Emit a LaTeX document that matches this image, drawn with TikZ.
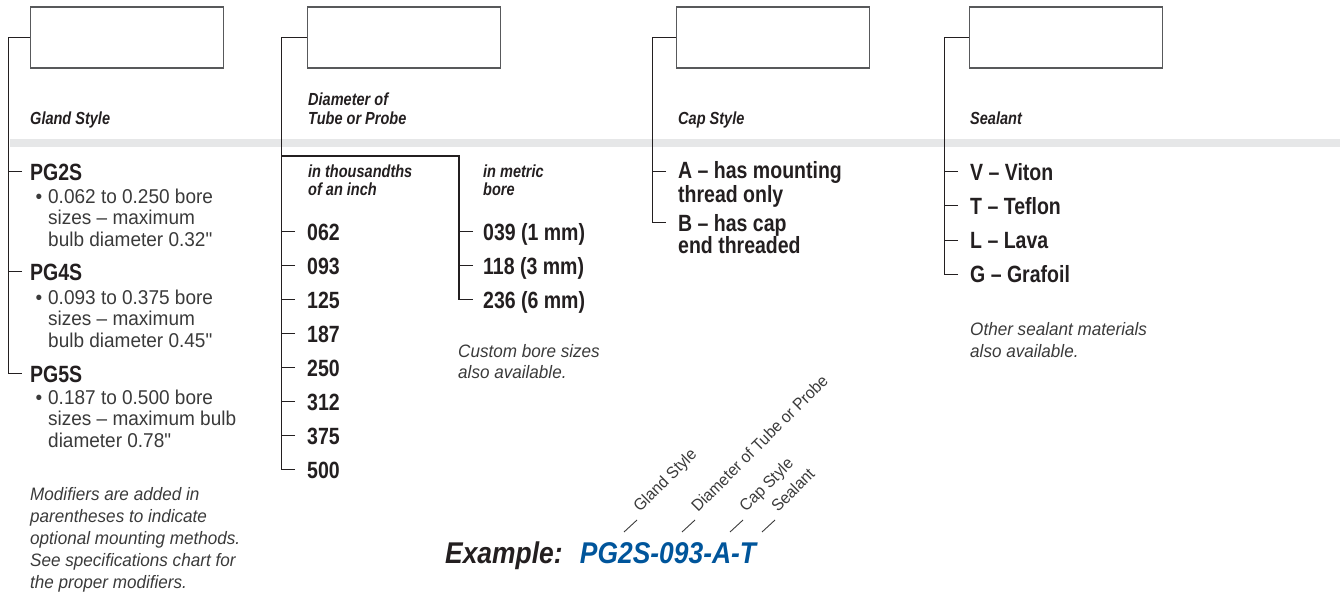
\documentclass[tikz,border=0pt]{standalone}
\usepackage{fontspec}
\usepackage{tikz}
\usetikzlibrary{positioning,calc}
\newfontfamily\boldcond[FakeStretch=0.83]{Liberation Sans}
\newfontfamily\lightcond[FakeStretch=0.95]{Liberation Sans}
\newfontfamily\examplecond[FakeStretch=0.88]{Liberation Sans}
\definecolor{ink}{HTML}{231F20}
\definecolor{softink}{HTML}{3A3A3A}
\definecolor{boxline}{HTML}{58595B}
\definecolor{band}{HTML}{E6E7E8}
\definecolor{codeblue}{HTML}{00559B}

\begin{document}
\begin{tikzpicture}[x=1pt,y=-1pt,
	field/.style={draw=boxline,line width=1.5pt,minimum width=193pt,minimum height=61pt,inner sep=0pt},
	heading/.style={anchor=base west,inner sep=0pt,align=left,text=ink,
		font=\boldcond\bfseries\itshape\fontsize{17.5}{19}\selectfont},
	item/.style={anchor=base west,inner sep=0pt,align=left,text=ink,
		font=\boldcond\bfseries\fontsize{23.5}{22}\selectfont},
	bullets/.style={anchor=base west,inner sep=0pt,align=left,text=softink,
		font=\lightcond\fontsize{20}{21.8}\selectfont},
	note/.style={anchor=base west,inner sep=0pt,align=left,text=softink,
		font=\lightcond\itshape\fontsize{18}{22}\selectfont},
	tag/.style={anchor=base west,inner sep=0pt,rotate=45,text=softink,
		font=\lightcond\fontsize{16.5}{16.5}\selectfont},
	example/.style={anchor=base west,inner sep=0pt,text=ink,
		font=\examplecond\bfseries\itshape\fontsize{30}{30}\selectfont},
	spine/.style={draw=ink,line width=1.1pt},
	tagline/.style={draw=softink,line width=0.9pt}]
	
	\useasboundingbox (0,0) rectangle (1340,594);
	
	\fill[band] (10,139) rectangle (1340,147);
	
	% code fields
	\node[field] (gland) at (127,37.5) {};
	\node[field] (diam) at (404,37.5) {};
	\node[field] (cap) at (773,37.5) {};
	\node[field] (seal) at (1066,37.5) {};
	
	% gland style (multi-line nodes sit on their last baseline)
	\node[heading] (glandhd) at (30,124) {Gland Style};
	\node[item] (pg2s) at (30,180) {PG2S};
	\node[bullets] (pg2sinfo) at (48,246.6)
	{\llap{•\hspace{6pt}}0.062 to 0.250 bore\\sizes – maximum\\bulb diameter 0.32"};
	\node[item] (pg4s) at (30,280) {PG4S};
	\node[bullets] (pg4sinfo) at (48,347.6)
	{\llap{•\hspace{6pt}}0.093 to 0.375 bore\\sizes – maximum\\bulb diameter 0.45"};
	\node[item] (pg5s) at (30,382) {PG5S};
	\node[bullets] (pg5sinfo) at (48,447.6)
	{\llap{•\hspace{6pt}}0.187 to 0.500 bore\\sizes – maximum bulb\\diameter 0.78"};
	\node[note] (modnote) at (30,588)
	{Modifiers are added in\\parentheses to indicate\\optional mounting methods.\\See specifications chart for\\the proper modifiers.};
	
	\draw[spine] (gland.west) -- ++(-21,0) |- ([shift={(-8,-8.5)}]pg5s.base west);
	\foreach \nm in {pg2s,pg4s}
	\draw[spine] (\nm.base west) ++(-8,-8.5) -- ++(-13,0);
	
	% diameter of tube or probe
	\node[heading] (diamhd) at (308,124) {Diameter of\\Tube or Probe};
	\node[heading,font=\boldcond\bfseries\itshape\fontsize{17.5}{18}\selectfont]
	(inchhd) at (308,195) {in thousandths\\of an inch};
	\node[heading,font=\boldcond\bfseries\itshape\fontsize{17.5}{18}\selectfont]
	(metrichd) at (483,195) {in metric\\bore};
	
	\foreach \num [count=\i from 0] in {062,093,125,187,250,312,375,500} {
		\node[item] (n\num) at (307,240+34*\i) {\num};
		\draw[spine] (n\num.base west) ++(-12,-8.5) -- ++(-13,0);
	}
	\draw[spine] (diam.west) -- ++(-25.5,0) |- ([shift={(-12,-8.5)}]n500.base west);
	
	\node[item] (m039) at (483,240) {039 (1 mm)};
	\node[item] (m118) at (483,274) {118 (3 mm)};
	\node[item] (m236) at (483,308) {236 (6 mm)};
	\coordinate (msplit) at (282,156);
	\coordinate (mcorner) at (459,156);
	\draw[spine] (msplit) -- (mcorner) |- ([shift={(-10,-8.5)}]m236.base west);
	\foreach \nm in {m039,m118}
	\draw[spine] (\nm.base west) ++(-10,-8.5) -- ++(-14,0);
	
	\node[note,font=\lightcond\itshape\fontsize{18}{21}\selectfont]
	(customnote) at (458,378) {Custom bore sizes\\also available.};
	
	% cap style
	\node[heading] (caphd) at (678,124) {Cap Style};
	\node[item] (capa) at (678,202) {A – has mounting\\thread only};
	\node[item] (capb) at (678,253) {B – has cap\\end threaded};
	\draw[spine] (cap.west) -- ++(-23.5,0) |- ([shift={(-12,-30.5)}]capb.base west);
	\draw[spine] (capa.base west) ++(-12,-30.5) -- ++(-13,0);
	
	% sealant
	\node[heading] (sealhd) at (970,124) {Sealant};
	\foreach \nm/\txt [count=\i from 0] in {sv/V – Viton,st/T – Teflon,sl/L – Lava,sg/G – Grafoil} {
		\node[item] (\nm) at (970,180+34.3*\i) {\txt};
		\draw[spine] (\nm.base west) ++(-12,-8.5) -- ++(-13,0);
	}
	\draw[spine] (seal.west) -- ++(-24.5,0) |- ([shift={(-12,-8.5)}]sg.base west);
	\node[note] (sealnote) at (970,357) {Other sealant materials\\also available.};
	
	% example
	\node[example] (exlbl) at (445,563) {Example:};
	\node[example,text=codeblue,right=17pt of exlbl.base east,anchor=base west] (excode) {PG2S-093-A-T};
	
	\node[tag] (tgland) at (640,513) {Gland Style};
	\node[tag] (tdiam) at (698,513) {Diameter of Tube or Probe};
	\node[tag] (tcap) at (746,513) {Cap Style};
	\node[tag] (tseal) at (778,513) {Sealant};
	\foreach \nm in {tgland,tdiam,tcap,tseal}
	\draw[tagline] (\nm.base west) ++(-3,7) -- ++(-13,12);
	
\end{tikzpicture}
\end{document}
